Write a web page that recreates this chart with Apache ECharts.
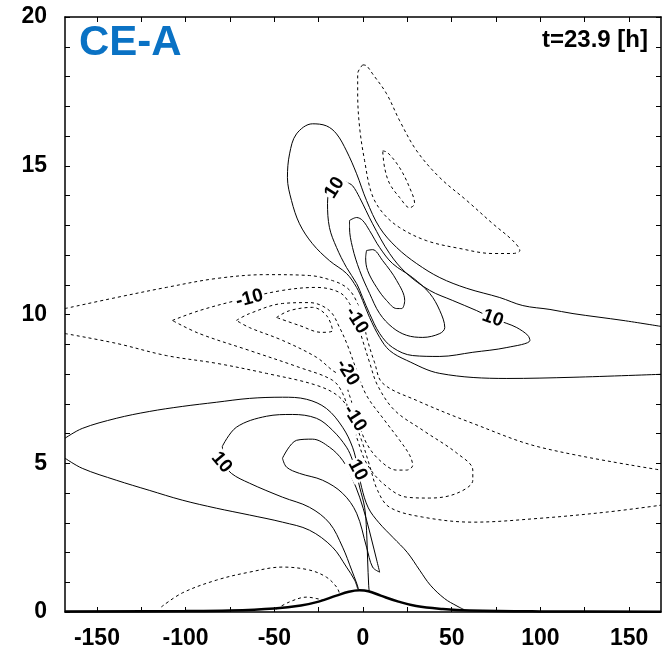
<!DOCTYPE html>
<html><head><meta charset="utf-8">
<script src="https://cdn.jsdelivr.net/npm/echarts@6/dist/echarts.min.js"></script>
<style>html,body{margin:0;padding:0;background:#fff}#c{width:669px;height:653px}</style>
</head><body><div id="c"></div>
<script>
// ---- axis ticks / labels ----
const xLabelValues = [-150,-100,-50,0,50,100,150];
const xTickValues = [-150,-125,-100,-75,-50,-25,0,25,50,75,100,125,150];
const yLabelValues = [0,5,10,15,20];
const yTickValues = [0,1,2,3,4,5,6,7,8,9,10,11,12,13,14,15,16,17,18,19,20];

// ---- terrain ----
const terrain = [[-168,0.02],[-100,0.03],[-75,0.05],[-50,0.12],[-35,0.22],[-25,0.35],[-15,0.55],[-8,0.68],[-2,0.73],[3,0.7],[10,0.55],[20,0.35],[30,0.2],[45,0.1],[60,0.05],[100,0.02],[168,0.01]];

// ---- positive contours (solid) ----
const posLowOuterA = [[-168,5.84],[-158.3,6.17],[-139.1,6.51],[-120.5,6.74],[-101.9,6.91],[-82.7,7.05],[-64,7.18],[-45.4,7.22],[-31.8,7.15],[-20.6,6.84],[-11.5,6.21],[-5.9,5.54],[-3,4.87],[-0.8,4.19],[3,3.5],[9,3.0],[17,2.5],[25,2.0],[32,1.4],[38,0.9],[46,0.45],[53,0.2],[57,0.08]];
const posLowOuterB = [[-168,5.17],[-158.3,4.83],[-139.1,4.43],[-120.5,4.09],[-101.9,3.76],[-82.7,3.49],[-64,3.26],[-45.4,3.02],[-30.2,2.75],[-17.2,2.18],[-9.3,1.51],[-4.7,1.07],[-3,0.78]];
const posLowMidA = [[-79.3,5.57],[-71.4,6.21],[-54.4,6.58],[-39.8,6.64],[-26.2,6.51],[-17.2,6.11],[-9.3,5.54],[-5.9,5.10],[-3.5,4.6],[-1.9,4.2],[0.9,3.52],[2.0,2.75],[2.6,1.75],[3.2,0.9],[3.5,0.7]];
const posLowMidB = [[-79.3,5.57],[-78,5.0],[-74.2,4.66],[-64,4.33],[-45.4,3.86],[-30.2,3.52],[-18.9,2.99],[-11.5,2.18],[-6.4,1.41],[-3.6,0.97],[-2.5,0.76]];
const posLowInner = [[-45.4,5.17],[-37.5,5.77],[-28.5,5.81],[-18.9,5.54],[-11.5,5.10],[-6.4,4.53],[-1.9,3.86],[2.0,3.09],[4.9,2.42],[7.7,1.75],[9.4,1.34],[5.4,1.51],[2.0,2.18],[-3.6,3.32],[-11.5,3.99],[-22.8,4.43],[-35.8,4.66],[-43.1,4.87],[-45.4,5.17]];
const posUpOuter = [[168,9.60],[146.6,9.80],[118.4,10.03],[105.4,10.17],[90.1,10.30],[77.1,10.57],[58.5,10.88],[43.3,11.24],[30.3,11.71],[19.0,12.25],[9.4,12.92],[2.0,13.83],[-3.6,14.73],[-9.3,15.50],[-14.9,16.07],[-20.6,16.34],[-28.5,16.41],[-37.5,16.07],[-41.4,15.40],[-42.6,14.60],[-40.3,13.83],[-35.8,13.05],[-28.5,12.38],[-18.9,11.81],[-9.3,11.38],[-3.6,10.91],[-0.2,10.47],[3.7,9.90],[9.4,9.23],[15.0,8.79],[24.6,8.46],[43.3,8.02],[81.1,7.85],[118.4,7.89],[168,7.99]];
const posUpMid = [[-8.7,14.43],[-5.9,14.33],[-1.9,13.93],[5.4,13.05],[15.0,12.05],[24.6,11.38],[37.6,10.81],[50.6,10.47],[64.1,10.13],[73.2,9.87],[81.1,9.70],[86.7,9.56],[92.9,9.30],[94.1,9.13],[81.1,8.89],[61.9,8.73],[43.3,8.59],[28.0,8.62],[16.7,8.89],[9.4,9.36],[3.7,10.03],[-0.2,10.57],[-3.6,11.04],[-9.3,11.58],[-14.9,12.25],[-18.9,12.92],[-20.0,13.73],[-18,14.3],[-13,14.5],[-8.7,14.43]];
const posUpInner = [[-7.6,13.16],[-3.6,13.26],[-0.2,13.16],[3.7,12.82],[9.4,12.25],[16.7,11.71],[28.0,11.24],[37.6,10.71],[43.3,10.13],[46.1,9.56],[43.3,9.36],[33.7,9.23],[24.6,9.30],[16.7,9.56],[9.4,10.03],[3.7,10.71],[-1.9,11.48],[-5.9,12.25],[-7.6,12.92],[-7.6,13.16]];
const posUpCore = [[2.0,12.15],[5.4,12.18],[11.1,11.81],[19.0,11.14],[23.5,10.47],[21.8,10.20],[19.0,10.20],[13.3,10.47],[7.7,10.91],[2.6,11.48],[1.5,11.91],[2.0,12.15]];

// ---- negative contours (dashed) ----
const negTopOuter = [[-0.2,18.39],[2.0,18.36],[5.4,18.09],[13.3,17.42],[20.7,16.51],[30.3,15.50],[43.3,14.60],[58.5,13.83],[73.2,13.05],[84.5,12.48],[88.4,12.15],[84.5,12.05],[73.2,12.05],[54.5,12.22],[35.9,12.48],[20.7,12.92],[11.1,13.42],[4.9,14.06],[0.9,15.17],[-1.9,16.28],[-3.0,17.42],[-3.0,18.09],[-0.2,18.39]];
const negTopInner = [[11.1,15.50],[13.9,15.44],[20.7,14.93],[26.3,14.26],[29.1,13.73],[26.3,13.59],[20.7,13.93],[15.0,14.40],[12.2,14.93],[11.1,15.50]];
const negOuterUpper = [[-168,10.20],[-139.1,10.57],[-110.9,10.91],[-82.7,11.21],[-54.4,11.34],[-30.2,11.31],[-17.2,11.14],[-9.3,10.91],[-4.7,10.57],[-0.8,9.97],[2.6,9.13],[6.5,8.39],[11.1,7.69],[30.3,7.11],[61.9,6.34],[99.7,5.54],[168,4.77]];
const negOuterLower = [[-168,9.36],[-139.1,9.03],[-110.9,8.62],[-82.7,8.36],[-54.4,8.02],[-26.2,7.62],[-13.2,7.22],[-6.4,6.61],[-0.8,5.77],[3.7,4.93],[8.2,4.09],[15.0,3.52],[33.7,3.19],[61.9,3.02],[99.7,3.15],[137.6,3.36],[168,3.59]];
const negMid = [[-107.5,9.80],[-92.3,10.13],[-71.4,10.47],[-45.4,10.81],[-26.2,10.91],[-13.2,10.74],[-7.6,10.37],[-3.6,9.80],[-0.2,9.13],[3.7,8.39],[8.2,7.62],[17.8,6.78],[33.7,6.11],[52.9,5.34],[61.9,4.77],[61.9,4.43],[52.9,3.99],[37.6,3.83],[24.6,3.86],[11.1,4.33],[2.0,5.00],[-3.0,5.77],[-6.4,6.44],[-11.5,7.35],[-17.2,7.79],[-35.8,8.22],[-64.0,8.79],[-92.3,9.36],[-107.5,9.80]];
const negInner = [[-71.4,9.80],[-64.0,10.03],[-45.4,10.37],[-30.2,10.40],[-18.9,10.13],[-13.2,9.56],[-8.7,8.96],[-3.6,8.12],[2.0,7.28],[12.2,6.44],[20.7,5.77],[26.3,5.27],[28.0,4.93],[24.6,4.77],[19.0,4.77],[9.4,5.10],[2.0,5.67],[-3.0,6.44],[-7.6,7.28],[-11.5,7.89],[-17.2,8.12],[-26.2,8.56],[-45.4,9.13],[-64.0,9.56],[-71.4,9.80]];
const negCore = [[-48.8,9.90],[-41.4,10.13],[-28.5,10.24],[-20.6,9.97],[-17.2,9.46],[-23.4,9.40],[-35.8,9.63],[-48.8,9.90]];
const negLowOuter = [[-113.7,0.17],[-101.9,0.64],[-82.7,1.07],[-64.0,1.34],[-45.4,1.51],[-30.2,1.41],[-20.6,1.17],[-14.9,0.84],[-13.2,0.62]];
const negLowInner = [[-48.8,0.1],[-41.4,0.34],[-31.8,0.50],[-26,0.45],[-22.5,0.4]];

// ---- contour labels ----
const labelX = [-16.0, 73.2, -64.0, -3.6, -8.7, -4.7, -3.0, -79.8];
const labelY = [14.26, 9.87, 10.54, 9.80, 8.05, 6.51, 4.77, 5.03];
const labelText = ['10','10','-10','-10','-20','-10','10','10'];
const labelAngle = [58, -20, 15, -58, -58, -58, -62, -50];

const solid = [posLowOuterA,posLowOuterB,posLowMidA,posLowMidB,posLowInner,posUpOuter,posUpMid,posUpInner,posUpCore];
const dashed = [negTopOuter,negTopInner,negOuterUpper,negOuterLower,negMid,negInner,negCore,negLowOuter,negLowInner];

const series = [];
solid.forEach(d => series.push({type:'line',data:d,smooth:0.35,symbol:'none',silent:true,
  lineStyle:{color:'#000',width:1,type:'solid'},z:2}));
dashed.forEach(d => series.push({type:'line',data:d,smooth:0.35,symbol:'none',silent:true,
  lineStyle:{color:'#000',width:1,type:[3,3]},z:2}));
series.push({type:'line',data:terrain,smooth:0.4,symbol:'none',silent:true,
  lineStyle:{color:'#000',width:2.5},z:3});
series.push({type:'custom',silent:true,z:5,
  data: labelX.map((x,i)=>[x,labelY[i],i]),
  renderItem:function(params,api){
    const p = api.coord([api.value(0),api.value(1)]);
    const i = api.value(2);
    return {type:'text',x:p[0],y:p[1],rotation:labelAngle[i]*Math.PI/180,
      style:{text:labelText[i],fill:'#000',fontSize:19,fontWeight:'bold',fontFamily:'Liberation Sans',
        align:'center',verticalAlign:'middle',backgroundColor:'#fff',padding:[0,1]}};
  }});

const axisFont = {color:'#000',fontSize:23,fontWeight:'bold',fontFamily:'Liberation Sans'};
const chart = echarts.init(document.getElementById('c'),null,{renderer:'canvas'});
chart.setOption({
  animation:false,
  backgroundColor:'#fff',
  grid:{left:65,right:8,top:17,bottom:41,containLabel:false},
  xAxis:[
    {type:'value',min:-168,max:168,position:'bottom',
     axisLine:{onZero:false,lineStyle:{color:'#000',width:1.5}},
     axisTick:{inside:true,length:5,customValues:xTickValues,lineStyle:{color:'#000'}},
     axisLabel:Object.assign({customValues:xLabelValues,margin:15},axisFont),
     splitLine:{show:false}},
    {type:'value',min:-168,max:168,position:'top',
     axisLine:{onZero:false,lineStyle:{color:'#000',width:1.5}},
     axisTick:{inside:true,length:5,customValues:xTickValues,lineStyle:{color:'#000'}},
     axisLabel:{show:false},splitLine:{show:false}}
  ],
  yAxis:[
    {type:'value',min:0,max:20,position:'left',
     axisLine:{show:true,onZero:false,lineStyle:{color:'#000',width:1.5}},
     axisTick:{show:true,inside:true,length:5,customValues:yTickValues,lineStyle:{color:'#000'}},
     axisLabel:Object.assign({customValues:yLabelValues,margin:18},axisFont),
     splitLine:{show:false}},
    {type:'value',min:0,max:20,position:'right',
     axisLine:{show:true,onZero:false,lineStyle:{color:'#000',width:1.5}},
     axisTick:{show:true,inside:true,length:5,customValues:yTickValues,lineStyle:{color:'#000'}},
     axisLabel:{show:false},splitLine:{show:false}}
  ],
  graphic:[
    {type:'text',left:79,top:22,style:{text:'CE-A',fill:'#0a72c4',font:'bold 42px "Liberation Sans"'}},
    {type:'text',right:21,top:28,style:{text:'t=23.9 [h]',fill:'#000',font:'bold 24px "Liberation Sans"'}}
  ],
  series:series
});
</script></body></html>
